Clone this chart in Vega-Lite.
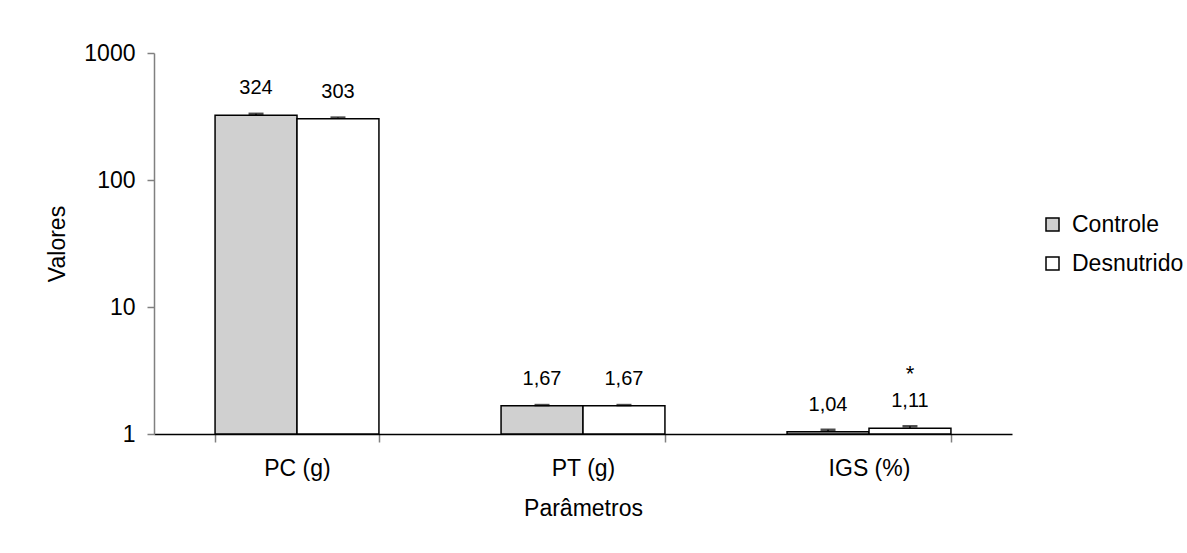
{
  "$schema": "https://vega.github.io/schema/vega-lite/v6.json",
  "width": 858,
  "height": 381,
  "autosize": {"type": "none"},
  "padding": {"left": 154, "top": 53, "right": 175, "bottom": 119},
  "background": "white",
  "config": {
    "view": {"stroke": null},
    "font": "Liberation Sans",
    "locale": {"number": {"decimal": ",", "thousands": ".", "grouping": [3], "currency": ["", ""]}}
  },
  "data": {
    "values": [
      {"param": "PC (g)", "grupo": "Controle", "valor": 324, "sup": 332, "sig": null},
      {"param": "PC (g)", "grupo": "Desnutrido", "valor": 303, "sup": 310, "sig": null},
      {"param": "PT (g)", "grupo": "Controle", "valor": 1.67, "sup": 1.69, "sig": null},
      {"param": "PT (g)", "grupo": "Desnutrido", "valor": 1.67, "sup": 1.69, "sig": null},
      {"param": "IGS (%)", "grupo": "Controle", "valor": 1.04, "sup": 1.08, "sig": null},
      {"param": "IGS (%)", "grupo": "Desnutrido", "valor": 1.11, "sup": 1.15, "sig": "*"}
    ]
  },
  "encoding": {
    "x": {
      "field": "param", "type": "nominal",
      "sort": ["PC (g)", "PT (g)", "IGS (%)"],
      "scale": {"paddingInner": 0.427, "paddingOuter": 0.2135},
      "axis": {
        "title": "Parâmetros", "labelAngle": 0, "tickBand": "extent",
        "domainColor": "black", "domainWidth": 1.5, "tickColor": "#808080", "tickWidth": 1.5, "tickSize": 8,
        "labelFontSize": 23, "labelColor": "black", "labelPadding": 15,
        "titleFontSize": 23, "titleFontWeight": "normal", "titleColor": "black", "titlePadding": 17
      }
    },
    "xOffset": {"field": "grupo", "type": "nominal", "sort": ["Controle", "Desnutrido"], "scale": {"paddingInner": 0, "paddingOuter": 0}}
  },
  "layer": [
    {
      "mark": {"type": "rule", "color": "black", "strokeWidth": 1.5},
      "encoding": {
        "y": {"field": "valor", "type": "quantitative"},
        "y2": {"field": "sup"}
      }
    },
    {
      "mark": {"type": "bar", "stroke": "black", "strokeWidth": 1.5},
      "encoding": {
        "y": {
          "field": "valor", "type": "quantitative",
          "scale": {"type": "log", "domain": [1, 1000], "nice": false},
          "axis": {
            "title": "Valores", "values": [1, 10, 100, 1000], "format": "d", "grid": false,
            "domainColor": "#808080", "domainWidth": 1.5, "tickColor": "#808080", "tickWidth": 1.5, "tickSize": 7,
            "labelFontSize": 23, "labelColor": "black", "labelPadding": 12,
            "titleFontSize": 23, "titleFontWeight": "normal", "titleColor": "black", "titlePadding": 14
          }
        },
        "y2": {"datum": 1},
        "fill": {
          "field": "grupo", "type": "nominal",
          "scale": {"domain": ["Controle", "Desnutrido"], "range": ["#d0d0d0", "#ffffff"]},
          "legend": {
            "title": null, "orient": "none", "legendX": 887, "legendY": 160,
            "symbolType": "square", "symbolSize": 169, "symbolStrokeColor": "black", "symbolStrokeWidth": 1.5,
            "labelFontSize": 23, "labelColor": "black", "rowPadding": 15, "labelOffset": 8
          }
        }
      }
    },
    {
      "mark": {"type": "tick", "color": "black", "thickness": 2.5, "size": 15},
      "encoding": {"y": {"field": "sup", "type": "quantitative"}}
    },
    {
      "mark": {"type": "text", "fontSize": 20, "color": "black", "baseline": "middle", "dy": -27},
      "encoding": {
        "y": {"field": "valor", "type": "quantitative"},
        "text": {"field": "valor", "type": "quantitative", "format": ".3r"}
      }
    },
    {
      "transform": [{"filter": "datum.sig != null"}],
      "mark": {"type": "text", "fontSize": 22, "color": "black", "baseline": "middle", "dy": -54},
      "encoding": {
        "y": {"field": "valor", "type": "quantitative"},
        "text": {"field": "sig", "type": "nominal"}
      }
    }
  ]
}
